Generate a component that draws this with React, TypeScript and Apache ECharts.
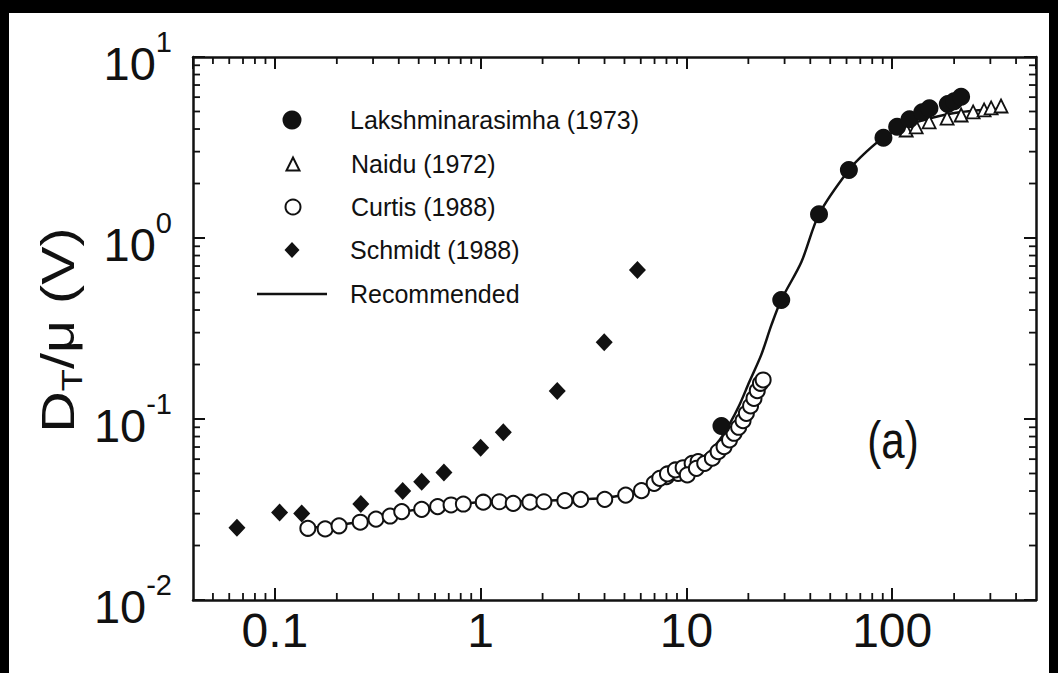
import React, { useEffect, useRef } from "react";
import * as echarts from "echarts";

// ---- data ----
const lakX = [14.8, 28.9, 44.1, 61.6, 90.7, 105.7, 121.4, 140, 151.7, 186.4, 200, 216.3];
const lakY = [0.0915, 0.4545, 1.352, 2.375, 3.58, 4.12, 4.53, 4.95, 5.21, 5.5, 5.7, 6.03];

const naiduX = [117, 130.8, 151.2, 184.9, 216.3, 247.4, 279.7, 302.6, 338];
const naiduY = [3.95, 4.11, 4.38, 4.6, 4.78, 4.97, 5.1, 5.23, 5.36];

const curtisX = [
  0.1446, 0.1755, 0.205, 0.26, 0.31, 0.363, 0.4135, 0.517, 0.618, 0.718, 0.824, 1.03, 1.233, 1.44,
  1.735, 2.03, 2.566, 3.06, 4.01, 5.07, 6.05, 6.97, 8.0, 9.11, 7.42, 8.09, 8.84, 9.64, 10.66, 11.4,
  10.1, 11.18, 12.27, 13.37, 14.26, 15.24, 16.2, 17.04, 17.94, 18.85, 19.56, 20.5, 21.3, 22.1, 22.9, 23.6,
];
const curtisY = [
  0.0249, 0.0247, 0.0257, 0.0269, 0.028, 0.0291, 0.0308, 0.0317, 0.0328, 0.0335, 0.0339, 0.0347, 0.0349,
  0.0342, 0.0347, 0.0349, 0.0354, 0.036, 0.036, 0.038, 0.0402, 0.0441, 0.048, 0.0501, 0.047, 0.0497,
  0.0523, 0.0538, 0.0569, 0.0581, 0.0491, 0.0534, 0.0569, 0.0607, 0.066, 0.0703, 0.0766, 0.0834, 0.09,
  0.0979, 0.1075, 0.118, 0.13, 0.1434, 0.1575, 0.1643,
];

const schmidtX = [0.0654, 0.1054, 0.135, 0.2616, 0.418, 0.517, 0.663, 1.0, 1.289, 2.356, 3.986, 5.78];
const schmidtY = [0.0251, 0.0304, 0.0301, 0.0339, 0.04, 0.045, 0.0507, 0.0694, 0.0844, 0.1429, 0.2652, 0.6653];

const recX = [
  0.1446, 0.259, 0.4135, 0.647, 1.03, 1.77, 2.61, 4.0, 5.12, 6.05, 7.56, 9.46, 11.18, 12.9, 14.5, 16.2,
  18.1, 20.2, 23.1, 25.9, 28.9, 36.2, 44.1, 61.6, 74.8, 90.7, 117, 154.6, 216.3, 350,
];
const recY = [
  0.025, 0.027, 0.0306, 0.033, 0.0348, 0.0352, 0.0357, 0.0366, 0.0385, 0.041, 0.046, 0.0522, 0.0579,
  0.0657, 0.0766, 0.0938, 0.1195, 0.16, 0.226, 0.331, 0.4545, 0.737, 1.352, 2.375, 2.99, 3.58, 4.16, 4.6,
  4.97, 5.2,
];

const seriesNames = [
  "Lakshminarasimha (1973)",
  "Naidu (1972)",
  "Curtis (1988)",
  "Schmidt (1988)",
  "Recommended",
];

const xTickLabels: Record<string, string> = { "-1": "0.1", "0": "1", "1": "10", "2": "100" };
const yTickExponents: Record<string, string> = { "-2": "-2", "-1": "-1", "0": "0", "1": "1" };

const xMinorTicks = [
  0.05, 0.06, 0.07, 0.08, 0.09, 0.2, 0.3, 0.4, 0.5, 0.6, 0.7, 0.8, 0.9, 2, 3, 4, 5, 6, 7, 8, 9, 20, 30, 40,
  50, 60, 70, 80, 90, 200, 300, 400,
];
const yMinorTicks = [
  0.02, 0.03, 0.04, 0.05, 0.06, 0.07, 0.08, 0.09, 0.2, 0.3, 0.4, 0.5, 0.6, 0.7, 0.8, 0.9, 2, 3, 4, 5, 6, 7,
  8, 9,
];

const xMin = 0.04;
const xMax = 500;
const yMin = 0.01;
const yMax = 10;

const FONT = "'Liberation Sans', Arial, Helvetica, sans-serif";
const INK = "#111";
const MINOR_LEN = 7;

function pairs(xs: number[], ys: number[]) {
  return xs.map((x, i) => [x, ys[i]]);
}

function decade(v: number): string | null {
  const l = Math.log10(v);
  const r = Math.round(l);
  if (Math.abs(l - r) > 1e-6) return null;
  return String(r);
}

function frameAxis(kind: "x" | "y", position: string, labels: any) {
  return {
    type: "log",
    logBase: 10,
    min: kind === "x" ? xMin : yMin,
    max: kind === "x" ? xMax : yMax,
    position,
    axisLine: { show: true, onZero: false, lineStyle: { color: INK, width: 2.5 } },
    axisTick: { show: true, inside: true, length: 12, lineStyle: { color: INK, width: 2 } },
    splitLine: { show: false },
    axisLabel: labels || { show: false },
  };
}

export default function App() {
  const ref = useRef<HTMLDivElement>(null);

  useEffect(() => {
    if (!ref.current) return;
    const chart = echarts.init(ref.current, undefined, { renderer: "svg" });

    // legend rows: symbol centre x = 292, text starts at x = 350
    const legendRows = [
      { name: seriesNames[0], c: 120, w: 19, h: 19, icon: "circle" },
      { name: seriesNames[1], c: 164, w: 13, h: 13, icon: "triangle" },
      { name: seriesNames[2], c: 207, w: 15, h: 15, icon: "circle" },
      { name: seriesNames[3], c: 250, w: 15, h: 16, icon: "diamond" },
      { name: seriesNames[4], c: 294, w: 70, h: 2.5, icon: "rect" },
    ];

    const minorTickStyle = { stroke: INK, lineWidth: 1.8 };

    const option: any = {
      animation: false,
      backgroundColor: "transparent",
      textStyle: { fontFamily: FONT },
      grid: { left: 193, top: 57, right: 22, bottom: 73, containLabel: false },
      legend: legendRows.map((r) => {
        const left = 292 - r.w / 2;
        return {
          data: [{ name: r.name, icon: r.icon }],
          orient: "vertical",
          left,
          top: r.c - 13,
          padding: 0,
          itemWidth: r.w,
          itemHeight: r.h,
          symbolKeepAspect: false,
          selectedMode: false,
          textStyle: {
            fontFamily: FONT,
            fontSize: 25,
            lineHeight: 26,
            color: INK,
            padding: [0, 0, 0, Math.max(0, 350 - (left + r.w + 5))],
          },
        };
      }),
      xAxis: [
        frameAxis("x", "bottom", {
          show: true,
          showMinLabel: false,
          showMaxLabel: false,
          margin: 6,
          fontFamily: FONT,
          fontSize: 48,
          lineHeight: 48,
          color: INK,
          formatter: (v: number) => {
            const d = decade(v);
            return d !== null && xTickLabels[d] ? xTickLabels[d] : "";
          },
        }),
        frameAxis("x", "top", null),
      ],
      yAxis: [
        frameAxis("y", "left", {
          show: true,
          margin: 21,
          color: INK,
          formatter: (v: number) => {
            const d = decade(v);
            if (d === null || yTickExponents[d] === undefined) return "";
            return `{b|10}{s|${yTickExponents[d]}}`;
          },
          rich: {
            b: { fontFamily: FONT, fontSize: 47, lineHeight: 60, verticalAlign: "bottom", color: INK },
            s: { fontFamily: FONT, fontSize: 29, lineHeight: 29, verticalAlign: "top", color: INK },
          },
        }),
        frameAxis("y", "right", null),
      ],
      graphic: [
        {
          type: "text",
          x: 58,
          y: 330,
          rotation: Math.PI / 2,
          scaleX: 1.25,
          style: {
            text: "{d|D}{t|T}{d|/μ (V)}",
            align: "center",
            verticalAlign: "middle",
            fill: INK,
            font: `46px ${FONT}`,
            rich: {
              d: { fontFamily: FONT, fontSize: 46, lineHeight: 46, verticalAlign: "top", fill: INK },
              t: {
                fontFamily: FONT,
                fontSize: 29,
                lineHeight: 29,
                verticalAlign: "top",
                padding: [22, 0, 0, 0],
                fill: INK,
              },
            },
          },
        },
        {
          type: "text",
          x: 893,
          y: 440,
          scaleY: 1.25,
          style: {
            text: "(a)",
            align: "center",
            verticalAlign: "middle",
            fill: INK,
            fontFamily: FONT,
            fontSize: 42,
          },
        },
      ],
      series: [
        {
          // minor log ticks on bottom and top frame, placed via the x axis scale
          name: "xMinorTicks",
          type: "custom",
          silent: true,
          clip: false,
          data: xMinorTicks.map((v) => [v, yMin]),
          renderItem: (_p: any, api: any) => {
            const b = api.coord([api.value(0), yMin]);
            const t = api.coord([api.value(0), yMax]);
            return {
              type: "group",
              children: [
                {
                  type: "line",
                  shape: { x1: b[0], y1: b[1], x2: b[0], y2: b[1] - MINOR_LEN },
                  style: minorTickStyle,
                },
                {
                  type: "line",
                  shape: { x1: t[0], y1: t[1], x2: t[0], y2: t[1] + MINOR_LEN },
                  style: minorTickStyle,
                },
              ],
            };
          },
          z: 5,
        },
        {
          name: "yMinorTicks",
          type: "custom",
          silent: true,
          clip: false,
          data: yMinorTicks.map((v) => [xMin, v]),
          renderItem: (_p: any, api: any) => {
            const l = api.coord([xMin, api.value(1)]);
            const r = api.coord([xMax, api.value(1)]);
            return {
              type: "group",
              children: [
                {
                  type: "line",
                  shape: { x1: l[0], y1: l[1], x2: l[0] + MINOR_LEN, y2: l[1] },
                  style: minorTickStyle,
                },
                {
                  type: "line",
                  shape: { x1: r[0], y1: r[1], x2: r[0] - MINOR_LEN, y2: r[1] },
                  style: minorTickStyle,
                },
              ],
            };
          },
          z: 5,
        },
        {
          name: seriesNames[4],
          type: "line",
          data: pairs(recX, recY),
          symbol: "none",
          smooth: 0.3,
          lineStyle: { color: INK, width: 2.5 },
          itemStyle: { color: INK },
          z: 2,
        },
        {
          name: seriesNames[2],
          type: "scatter",
          data: pairs(curtisX, curtisY),
          symbol: "circle",
          symbolSize: 15,
          itemStyle: { color: "#fff", borderColor: INK, borderWidth: 2, opacity: 1 },
          z: 3,
        },
        {
          name: seriesNames[1],
          type: "scatter",
          data: pairs(naiduX, naiduY),
          symbol: "triangle",
          symbolSize: 13,
          itemStyle: { color: "#fff", borderColor: INK, borderWidth: 1.8, opacity: 1 },
          z: 3,
        },
        {
          name: seriesNames[0],
          type: "scatter",
          data: pairs(lakX, lakY),
          symbol: "circle",
          symbolSize: 18,
          itemStyle: { color: INK, opacity: 1 },
          z: 4,
        },
        {
          name: seriesNames[3],
          type: "scatter",
          data: pairs(schmidtX, schmidtY),
          symbol: "diamond",
          symbolSize: [17, 18],
          itemStyle: { color: INK, opacity: 1 },
          z: 4,
        },
      ],
    };

    chart.setOption(option);
    return () => chart.dispose();
  }, []);

  return (
    <div
      style={{
        position: "fixed",
        left: 0,
        top: 0,
        width: 1058,
        height: 673,
        background: "#000",
        overflow: "hidden",
      }}
    >
      <div
        style={{
          position: "absolute",
          left: 9,
          top: 13,
          width: 1040,
          height: 660,
          background: "#fff",
        }}
      />
      <div ref={ref} style={{ position: "absolute", left: 0, top: 0, width: 1058, height: 673 }} />
    </div>
  );
}
